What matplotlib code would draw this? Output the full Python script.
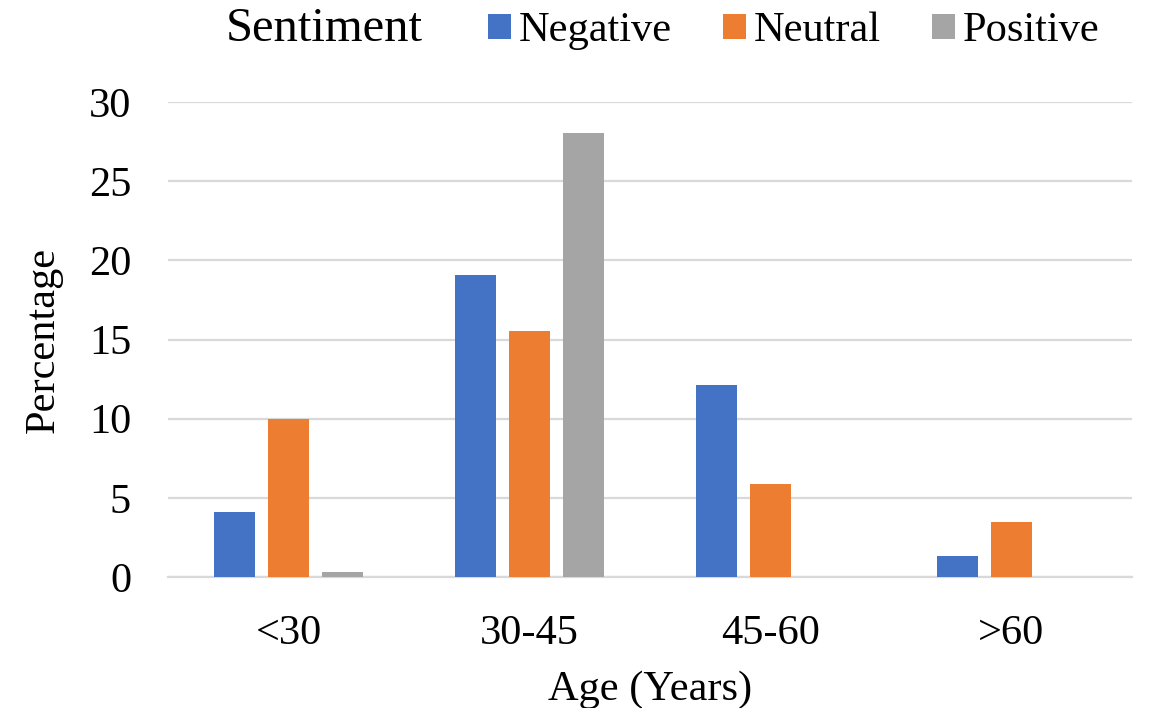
import numpy as np
import matplotlib.pyplot as plt

# Data
age_groups = ['<30', '30-45', '45-60', '>60']
negative = [4.1, 19.1, 12.1, 1.35]
neutral = [10.0, 15.55, 5.85, 3.45]
positive = [0.3, 28.05, 0.0, 0.0]
series_names = ['Negative', 'Neutral', 'Positive']
colors = ['#4472C4', '#ED7D31', '#A5A5A5']

plt.rcParams['font.family'] = ['Liberation Serif', 'DejaVu Serif']
fs = 30.5

fig = plt.figure(figsize=(11.5, 7.08), dpi=100)
ax = fig.add_axes([168 / 1150, 1 - 577 / 708, (1132 - 168) / 1150, (577 - 102) / 708])

x = np.arange(len(age_groups))
width = 0.174
step = 0.224
bars = []
for i, (vals, name, c) in enumerate(zip([negative, neutral, positive], series_names, colors)):
    b = ax.bar(x + (i - 1) * step, vals, width, color=c, label=name, zorder=3)
    bars.append(b)

ax.set_xlim(-0.5, len(age_groups) - 0.5)
ax.set_ylim(0, 30)
ax.set_yticks([0, 5, 10, 15, 20, 25, 30])
ax.set_xticks(x)
ax.set_xticklabels(age_groups)
ax.tick_params(axis='both', labelsize=fs, length=0, colors='black')
ax.tick_params(axis='x', pad=27)
ax.tick_params(axis='y', pad=26.6)
ax.grid(axis='y', color='#d9d9d9', linewidth=1.6, zorder=0)
for s in ['top', 'right', 'left']:
    ax.spines[s].set_visible(False)
ax.spines['bottom'].set_color('#d9d9d9')
ax.spines['bottom'].set_linewidth(1.6)

ax.set_ylabel('Percentage', fontsize=fs)
ax.yaxis.set_label_coords(-0.109, 0.5)
ax.set_xlabel('Age (Years)', fontsize=fs)
ax.xaxis.set_label_coords(0.5, -0.196)

fig.text(226 / 1150, 1 - 41 / 708, 'Sentiment', fontsize=35, va='baseline', ha='left')
fig.legend(handles=bars, labels=series_names, loc='center', ncol=3,
           bbox_to_anchor=(794 / 1150, 1 - 31 / 708), frameon=False, fontsize=fs,
           handlelength=0.54, handleheight=0.54, handletextpad=0.19, columnspacing=1.2,
           borderpad=0, borderaxespad=0)

fig.savefig('out.png', dpi=100)
